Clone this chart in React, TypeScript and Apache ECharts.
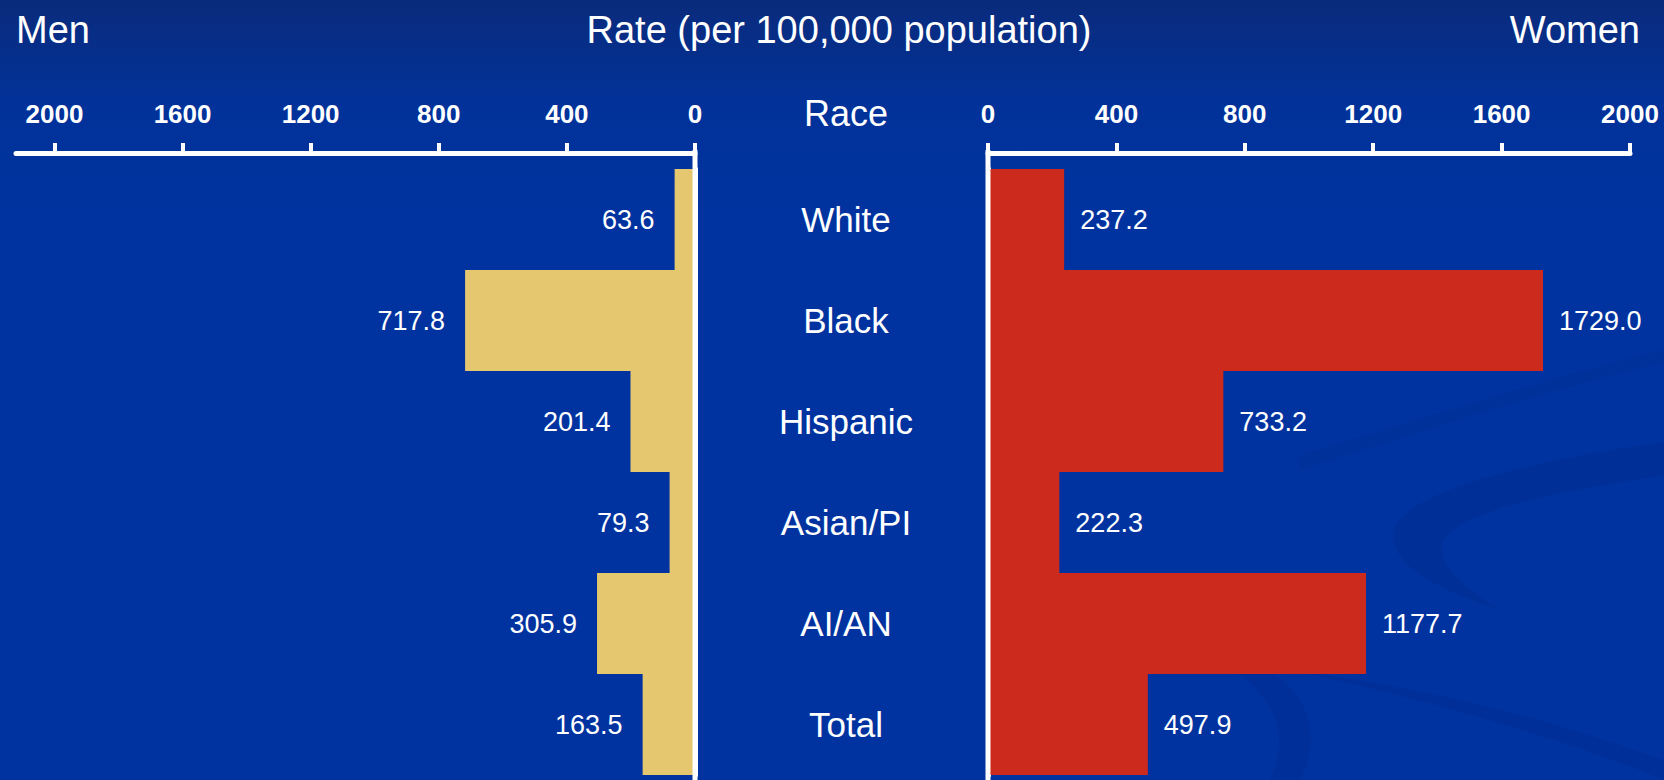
import React, { useEffect, useRef } from "react";
import * as echarts from "echarts";

const categories = ["White", "Black", "Hispanic", "Asian/PI", "AI/AN", "Total"];
const menRates = [63.6, 717.8, 201.4, 79.3, 305.9, 163.5];
const womenRates = [237.2, 1729.0, 733.2, 222.3, 1177.7, 497.9];
const tickValues = [0, 400, 800, 1200, 1600, 2000];

const FONT = "'Liberation Sans', Arial, sans-serif";

let registered = false;
function registerShapes() {
  if (registered) return;
  registered = true;
  echarts.graphic.registerShape(
    "swooshA",
    echarts.graphic.extendPath(
      "M1664,442 C1520,462 1390,495 1393,538 C1396,568 1440,590 1500,610 C1465,588 1438,566 1442,544 C1452,512 1560,490 1664,476 Z",
      {}
    )
  );
  echarts.graphic.registerShape(
    "swooshB",
    echarts.graphic.extendPath(
      "M1300,455 C1420,420 1540,380 1664,350 L1664,362 C1540,392 1420,432 1300,470 Z",
      {}
    )
  );
  echarts.graphic.registerShape(
    "swooshC",
    echarts.graphic.extendPath(
      "M1180,640 C1300,660 1330,720 1300,780 L1270,780 C1295,725 1270,680 1180,640 Z M1300,672 C1450,690 1580,730 1664,760 L1664,780 C1580,745 1450,705 1300,672 Z",
      {}
    )
  );
}

export default function App() {
  const ref = useRef<HTMLDivElement>(null);

  useEffect(() => {
    if (!ref.current) return;
    registerShapes();
    const chart = echarts.init(ref.current, undefined, { renderer: "svg" });

    const axisLineStyle = { color: "#ffffff", width: 5 };
    const tickLabel = {
      color: "#ffffff",
      fontSize: 26,
      fontWeight: "bold",
      fontFamily: FONT,
      margin: 26,
      customValues: tickValues,
      formatter: (v: number) => String(v),
    };
    const tickStyle = {
      show: true,
      length: 10,
      lineStyle: { color: "#ffffff", width: 4 },
      customValues: tickValues,
    };

    const option: any = {
      animation: false,
      backgroundColor: "transparent",
      textStyle: { fontFamily: FONT },
      grid: [
        { left: 16, width: 679, top: 169, height: 606, containLabel: false },
        { left: 988, width: 642, top: 169, height: 606, containLabel: false },
      ],
      xAxis: [
        {
          type: "value",
          gridIndex: 0,
          position: "top",
          offset: 16,
          inverse: true,
          min: 0,
          max: 2120,
          axisLine: { show: true, lineStyle: axisLineStyle },
          axisTick: tickStyle,
          axisLabel: tickLabel,
          splitLine: { show: false },
        },
        {
          type: "value",
          gridIndex: 1,
          position: "top",
          offset: 16,
          min: 0,
          max: 2000,
          axisLine: { show: true, lineStyle: axisLineStyle },
          axisTick: tickStyle,
          axisLabel: tickLabel,
          splitLine: { show: false },
        },
      ],
      yAxis: [
        {
          type: "category",
          gridIndex: 0,
          position: "right",
          inverse: true,
          data: categories,
          axisLine: { show: true, lineStyle: axisLineStyle },
          axisTick: { show: false },
          splitLine: { show: false },
          axisLabel: {
            color: "#ffffff",
            fontSize: 35,
            fontFamily: FONT,
            align: "center",
            margin: 151,
          },
        },
        {
          type: "category",
          gridIndex: 1,
          position: "left",
          inverse: true,
          data: categories,
          axisLine: { show: true, lineStyle: axisLineStyle },
          axisTick: { show: false },
          splitLine: { show: false },
          axisLabel: { show: false },
        },
      ],
      graphic: [
        { type: "swooshB", x: 0, y: 0, z: 0, silent: true, style: { fill: "rgba(0,28,110,0.10)" } },
        { type: "swooshA", x: 0, y: 0, z: 0, silent: true, style: { fill: "rgba(0,28,110,0.16)" } },
        { type: "swooshC", x: 0, y: 0, z: 0, silent: true, style: { fill: "rgba(0,28,110,0.14)" } },
        {
          type: "line",
          z: 5,
          silent: true,
          shape: { x1: 695, y1: 150, x2: 695, y2: 780 },
          style: { stroke: "#ffffff", lineWidth: 5 },
        },
        {
          type: "line",
          z: 5,
          silent: true,
          shape: { x1: 988, y1: 150, x2: 988, y2: 780 },
          style: { stroke: "#ffffff", lineWidth: 5 },
        },
        {
          type: "text",
          z: 10,
          style: { text: "Men", x: 16, y: 30, fill: "#ffffff", font: `38px ${FONT}`, textAlign: "left", textVerticalAlign: "middle" },
        },
        {
          type: "text",
          z: 10,
          style: { text: "Rate (per 100,000 population)", x: 839, y: 30, fill: "#ffffff", font: `38px ${FONT}`, textAlign: "center", textVerticalAlign: "middle" },
        },
        {
          type: "text",
          z: 10,
          style: { text: "Women", x: 1640, y: 30, fill: "#ffffff", font: `38px ${FONT}`, textAlign: "right", textVerticalAlign: "middle" },
        },
        {
          type: "text",
          z: 10,
          style: { text: "Race", x: 846, y: 113, fill: "#ffffff", font: `36px ${FONT}`, textAlign: "center", textVerticalAlign: "middle" },
        },
      ],
      series: [
        {
          name: "Men",
          type: "bar",
          xAxisIndex: 0,
          yAxisIndex: 0,
          data: menRates,
          barWidth: 101,
          itemStyle: { color: "#e4c76e", borderWidth: 0 },
          label: {
            show: true,
            position: "left",
            distance: 20,
            color: "#ffffff",
            fontSize: 27,
            fontFamily: FONT,
            formatter: (p: any) => Number(p.value).toFixed(1),
          },
        },
        {
          name: "Women",
          type: "bar",
          xAxisIndex: 1,
          yAxisIndex: 1,
          data: womenRates,
          barWidth: 101,
          itemStyle: { color: "#cc2a1c", borderWidth: 0 },
          label: {
            show: true,
            position: "right",
            distance: 16,
            color: "#ffffff",
            fontSize: 27,
            fontFamily: FONT,
            formatter: (p: any) => Number(p.value).toFixed(1),
          },
        },
      ],
    };

    chart.setOption(option);
    return () => {
      chart.dispose();
    };
  }, []);

  return (
    <div
      ref={ref}
      style={{
        position: "fixed",
        left: 0,
        top: 0,
        width: 1664,
        height: 780,
        background: "linear-gradient(180deg, #0a2b7c 0%, #01329a 14%, #0033a0 30%, #0033a0 100%)",
      }}
    />
  );
}
